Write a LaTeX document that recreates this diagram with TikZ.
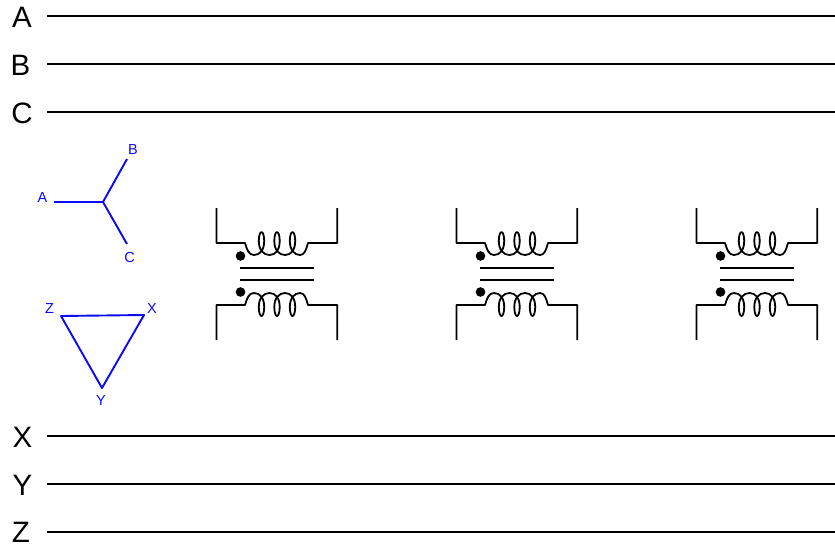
\documentclass[tikz,border=0pt]{standalone}
\usepackage{fontspec}
\setmainfont{Liberation Sans}
\definecolor{wireblue}{RGB}{10,10,245}
\tikzset{
  x=1pt,y=-1pt,
  busline/.style={black,line width=1.8pt},
  buslabel/.style={font=\fontsize{29.5}{30}\selectfont,inner sep=0pt,text=black},
  phasor/.style={wireblue,line width=1.9pt,line join=round},
  phasorlabel/.style={font=\fontsize{14.5}{14.5}\selectfont,inner sep=0pt,text=wireblue},
  winding/.style={black,line width=1.8pt,line join=round},
  coreline/.style={black,line width=1.8pt},
  polaritydot/.style={circle,fill=black,inner sep=0pt,minimum size=9.6pt},
}
\newcommand{\halfcoil}{%
  (216.5,208) -- (216.5,243) -- (245,243)
  .. controls (247,250) and (249,255) .. (254,255)
  .. controls (260,255) and (264.2,250) .. (264.2,241)
  .. controls (264.2,236) and (263,232) .. (261.5,232)
  .. controls (260,232) and (258.8,236) .. (258.8,241)
  .. controls (258.8,250) and (263.5,255) .. (269.5,255)
  .. controls (275.5,255) and (279.7,250) .. (279.7,241)
  .. controls (279.7,236) and (278.5,232) .. (277,232)
  .. controls (275.5,232) and (274.3,236) .. (274.3,241)
  .. controls (274.3,250) and (279,255) .. (285,255)
  .. controls (291,255) and (295.2,250) .. (295.2,241)
  .. controls (295.2,236) and (294,232) .. (292.5,232)
  .. controls (291,232) and (289.8,236) .. (289.8,241)
  .. controls (289.8,250) and (294.5,255) .. (300,255)
  .. controls (304.5,255) and (306,250) .. (308,243)
  -- (337.3,243) -- (337.3,208)}
\newcommand{\xfmr}[1]{%
  \begin{scope}[xshift=#1pt]
    \draw[winding] \halfcoil;
    \draw[winding,yshift=-548pt,yscale=-1] \halfcoil;
    \draw[coreline] (240,268) -- (313.5,268);
    \draw[coreline] (240,280) -- (313.5,280);
    \node[polaritydot] (dotp#1) at (240.5,256) {};
    \node[polaritydot] (dots#1) at (240.5,292) {};
  \end{scope}}
\begin{document}
\begin{tikzpicture}
\useasboundingbox (0,0) rectangle (835,544);
\foreach \n/\xx/\y in {A/22/17,B/20.5/65.5,C/22/113,X/22.5/437.5,Y/22.5/485,Z/21/532.5}{
  \node[buslabel] (lab\n) at (\xx,\y) {\n};
}
\foreach \n/\y in {A/16,B/64,C/112,X/436,Y/484,Z/532}{
  \coordinate (s\n) at (47,\y);
  \coordinate (e\n) at (835,\y);
  \draw[busline] (s\n) -- (e\n);
}
% wye
\coordinate (wc) at (103,202);
\coordinate (wa) at (54,202);
\coordinate (wb) at (127,159);
\coordinate (wcc) at (127,244);
\draw[phasor] (wa) -- (wc) -- (wb);
\draw[phasor] (wc) -- (wcc);
\node[phasorlabel] (la) at (42.5,197.5) {A};
\node[phasorlabel] (lb) at (133,149.5) {B};
\node[phasorlabel] (lc) at (129.5,257.5) {C};
% delta
\coordinate (dz) at (61,316);
\coordinate (dx) at (144,315);
\coordinate (dy) at (102,388);
\draw[phasor] (dz) -- (dx) -- (dy) -- cycle;
\node[phasorlabel] (lz) at (49.5,308.5) {Z};
\node[phasorlabel] (lx) at (152,308.5) {X};
\node[phasorlabel] (ly) at (101,401) {Y};
\xfmr{0}
\xfmr{240}
\xfmr{480}
\end{tikzpicture}
\end{document}
